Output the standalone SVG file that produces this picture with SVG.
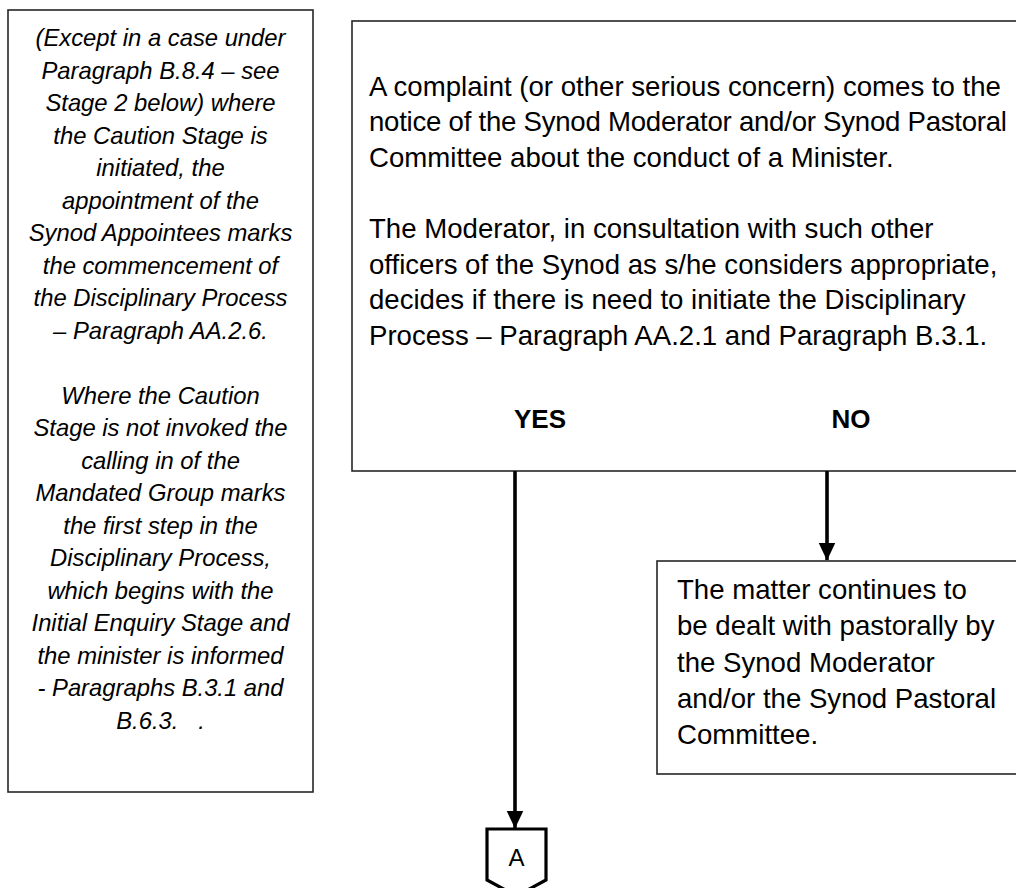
<svg xmlns="http://www.w3.org/2000/svg" width="1016" height="888" viewBox="0 0 1016 888">
  <style>
    .box { fill: #ffffff; stroke: #262626; stroke-width: 1.6; }
    .body { font-family: "Liberation Sans", Arial, sans-serif; font-size: 27.6px; fill: #000; }
    .note { font-family: "Liberation Sans", Arial, sans-serif; font-size: 23.8px; font-style: italic; fill: #000; text-anchor: middle; white-space: pre; }
    .yn { font-family: "Liberation Sans", Arial, sans-serif; font-size: 26px; font-weight: bold; fill: #000; text-anchor: middle; }
    .flow { stroke: #000; stroke-width: 3.6; fill: none; }
    .conn { fill: #fff; stroke: #000; stroke-width: 3.2; stroke-linejoin: miter; }
    .lbl { font-family: "Liberation Sans", Arial, sans-serif; font-size: 24px; fill: #000; text-anchor: middle; }
  </style>
  <defs>
    <marker id="arrow" markerUnits="userSpaceOnUse" markerWidth="18" markerHeight="18" viewBox="0 0 17 16" refX="16.5" refY="8" orient="auto">
      <path d="M0,0 L17,8 L0,16 Z" fill="#000"/>
    </marker>
  </defs>
  <rect width="1016" height="888" fill="#fff"/>

  <g id="note">
    <rect class="box" x="8" y="10" width="305" height="782"/>
    <text class="note" x="160.5" y="46">(Except in a case under</text>
    <text class="note" x="160.5" y="78.5">Paragraph B.8.4 – see</text>
    <text class="note" x="160.5" y="111">Stage 2 below) where</text>
    <text class="note" x="160.5" y="143.5">the Caution Stage is</text>
    <text class="note" x="160.5" y="176">initiated, the</text>
    <text class="note" x="160.5" y="208.5">appointment of the</text>
    <text class="note" x="160.5" y="241">Synod Appointees marks</text>
    <text class="note" x="160.5" y="273.5">the commencement of</text>
    <text class="note" x="160.5" y="306">the Disciplinary Process</text>
    <text class="note" x="160.5" y="338.5">– Paragraph AA.2.6.</text>
    <text class="note" x="160.5" y="403.5">Where the Caution</text>
    <text class="note" x="160.5" y="436">Stage is not invoked the</text>
    <text class="note" x="160.5" y="468.5">calling in of the</text>
    <text class="note" x="160.5" y="501">Mandated Group marks</text>
    <text class="note" x="160.5" y="533.5">the first step in the</text>
    <text class="note" x="160.5" y="566">Disciplinary Process,</text>
    <text class="note" x="160.5" y="598.5">which begins with the</text>
    <text class="note" x="160.5" y="631">Initial Enquiry Stage and</text>
    <text class="note" x="160.5" y="663.5">the minister is informed</text>
    <text class="note" x="160.5" y="696">- Paragraphs B.3.1 and</text>
    <text class="note" x="160.5" y="728.5">B.6.3.   .</text>
  </g>

  <g id="decision">
    <rect class="box" x="352" y="21" width="700" height="450"/>
    <text class="body" x="369" y="95.5">A complaint (or other serious concern) comes to the</text>
    <text class="body" x="369" y="131" textLength="638" lengthAdjust="spacing">notice of the Synod Moderator and/or Synod Pastoral</text>
    <text class="body" x="369" y="167">Committee about the conduct of a Minister.</text>
    <text class="body" x="369" y="238">The Moderator, in consultation with such other</text>
    <text class="body" x="369" y="273.5">officers of the Synod as s/he considers appropriate,</text>
    <text class="body" x="369" y="309">decides if there is need to initiate the Disciplinary</text>
    <text class="body" x="369" y="345">Process – Paragraph AA.2.1 and Paragraph B.3.1.</text>
    <text class="yn" x="540" y="428">YES</text>
    <text class="yn" x="851" y="428">NO</text>
  </g>

  <g id="pastoral">
    <rect class="box" x="657" y="561" width="400" height="213"/>
    <text class="body" x="677" y="599">The matter continues to</text>
    <text class="body" x="677" y="635">be dealt with pastorally by</text>
    <text class="body" x="677" y="672">the Synod Moderator</text>
    <text class="body" x="677" y="708">and/or the Synod Pastoral</text>
    <text class="body" x="677" y="744">Committee.</text>
  </g>

  <g id="connector-A">
    <path class="conn" d="M487,829 H546 V880 L516.5,896 L487,880 Z"/>
    <text class="lbl" x="516.5" y="866">A</text>
  </g>

  <g id="connectors">
    <line class="flow" x1="515" y1="471" x2="515" y2="828" marker-end="url(#arrow)"/>
    <line class="flow" x1="827" y1="471" x2="827" y2="560" marker-end="url(#arrow)"/>
  </g>
</svg>
